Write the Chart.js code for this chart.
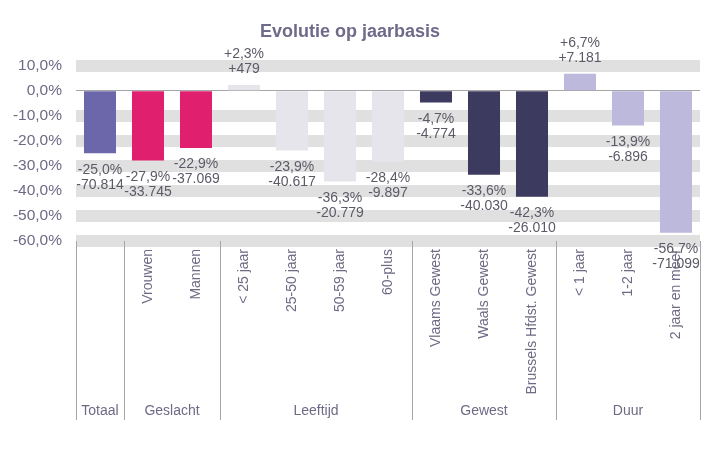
<!DOCTYPE html>
<html>
<head>
<meta charset="utf-8">
<script src="https://cdn.jsdelivr.net/npm/chart.js@4/dist/chart.umd.min.js"></script>
<style>
  html, body { margin: 0; padding: 0; background: #fff; }
  #wrap { width: 711px; height: 452px; }
</style>
</head>
<body>
<div id="wrap"><canvas id="chart"></canvas></div>
<script>
// -- data --
const subLabels = ['', 'Vrouwen', 'Mannen', '< 25 jaar', '25-50 jaar', '50-59 jaar', '60-plus',
  'Vlaams Gewest', 'Waals Gewest', 'Brussels Hfdst. Gewest', '< 1 jaar', '1-2 jaar', '2 jaar en meer'];
const groupNames = ['Totaal', 'Geslacht', 'Leeftijd', 'Gewest', 'Duur'];
const groupSizes = [1, 2, 4, 3, 3];
const groupColors = ['#6c67ab', '#e0206f', '#e6e5eb', '#3c3a5f', '#bdb9dc'];
const pctValues = [-25.0, -27.9, -22.9, 2.3, -23.9, -36.3, -28.4, -4.7, -33.6, -42.3, 6.7, -13.9, -56.7];
const countValues = [-70814, -33745, -37069, 479, -40617, -20779, -9897, -4774, -40030, -26010, 7181, -6896, -71099];
const yTicks = [10, 0, -10, -20, -30, -40, -50, -60];

const FONT = "'Liberation Sans', Arial, sans-serif";
const AXIS_COLOR = '#6e6a86';
const LABEL_COLOR = '#5b5a66';

// one colour per bar, taken from its group
const barColors = [];
groupSizes.forEach((n, g) => { for (let i = 0; i < n; i++) barColors.push(groupColors[g]); });

function fmtPct(v) {
  return (v > 0 ? '+' : '') + v.toFixed(1).replace('.', ',') + '%';
}
function fmtCount(v) {
  const s = Math.abs(v).toString().replace(/\B(?=(\d{3})+(?!\d))/g, '.');
  return (v < 0 ? '-' : '+') + s;
}

// value labels above / below each bar
const valueLabels = {
  id: 'valueLabels',
  afterDatasetsDraw(chart) {
    const ctx = chart.ctx;
    const meta = chart.getDatasetMeta(0);
    ctx.save();
    ctx.font = '14px ' + FONT;
    ctx.fillStyle = LABEL_COLOR;
    ctx.textAlign = 'center';
    ctx.textBaseline = 'middle';
    meta.data.forEach((bar, i) => {
      const v = pctValues[i];
      if (v < 0) {
        ctx.fillText(fmtPct(v), bar.x, bar.y + 16.5);
        ctx.fillText(fmtCount(countValues[i]), bar.x, bar.y + 31.5);
      } else {
        ctx.fillText(fmtPct(v), bar.x, bar.y - 31);
        ctx.fillText(fmtCount(countValues[i]), bar.x, bar.y - 16);
      }
    });
    ctx.restore();
  }
};

// second level of the category axis: group names and separators
const groupAxis = {
  id: 'groupAxis',
  afterDraw(chart) {
    const ctx = chart.ctx;
    const x = chart.scales.x;
    const area = chart.chartArea;
    const half = (x.getPixelForValue(1) - x.getPixelForValue(0)) / 2;
    const top = area.bottom;
    const bottom = area.bottom + 179;
    ctx.save();
    ctx.strokeStyle = '#a6a6a6';
    ctx.lineWidth = 1;
    ctx.font = '14px ' + FONT;
    ctx.fillStyle = AXIS_COLOR;
    ctx.textAlign = 'center';
    ctx.textBaseline = 'middle';
    let start = 0;
    groupSizes.forEach((n, g) => {
      const left = x.getPixelForValue(start) - half;
      const right = x.getPixelForValue(start + n - 1) + half;
      [left, right].forEach(px => {
        const p = Math.round(px) + 0.5;
        ctx.beginPath();
        ctx.moveTo(p, top);
        ctx.lineTo(p, bottom);
        ctx.stroke();
      });
      ctx.fillText(groupNames[g], (left + right) / 2, bottom - 9);
      start += n;
    });
    ctx.restore();
  }
};

new Chart(document.getElementById('chart'), {
  type: 'bar',
  data: {
    labels: subLabels,
    datasets: [{
      data: pctValues,
      backgroundColor: barColors,
      borderWidth: 0,
      barPercentage: 0.667,
      categoryPercentage: 1
    }]
  },
  options: {
    responsive: true,
    maintainAspectRatio: false,
    animation: false,
    layout: { padding: { left: 0, right: 11, top: 0, bottom: 0 } },
    plugins: {
      legend: { display: false },
      tooltip: { enabled: false },
      title: {
        display: true,
        text: 'Evolutie op jaarbasis',
        color: '#6e6a8a',
        font: { family: FONT, size: 18, weight: 'bold' },
        padding: { top: 21, bottom: 23 }
      }
    },
    scales: {
      x: {
        grid: { display: false, drawTicks: false },
        border: { display: false },
        ticks: {
          autoSkip: false,
          maxRotation: 90,
          minRotation: 90,
          padding: 8,
          color: AXIS_COLOR,
          font: { family: FONT, size: 14 }
        },
        afterFit: s => { s.height = 211; }
      },
      y: {
        min: Math.min(...yTicks),
        max: Math.max(...yTicks),
        afterBuildTicks: s => { s.ticks = yTicks.map(v => ({ value: v })); },
        grid: {
          drawTicks: false,
          color: c => c.tick && c.tick.value === 0 ? '#a6a6a6' : '#e0e0e0',
          lineWidth: c => c.tick && c.tick.value === 0 ? 1 : 12
        },
        border: { display: false },
        ticks: {
          padding: 14,
          color: AXIS_COLOR,
          font: { family: FONT, size: 15.5 },
          callback: v => v.toFixed(1).replace('.', ',') + '%'
        },
        afterFit: s => { s.width = 76; }
      }
    }
  },
  plugins: [valueLabels, groupAxis]
});
</script>
</body>
</html>
